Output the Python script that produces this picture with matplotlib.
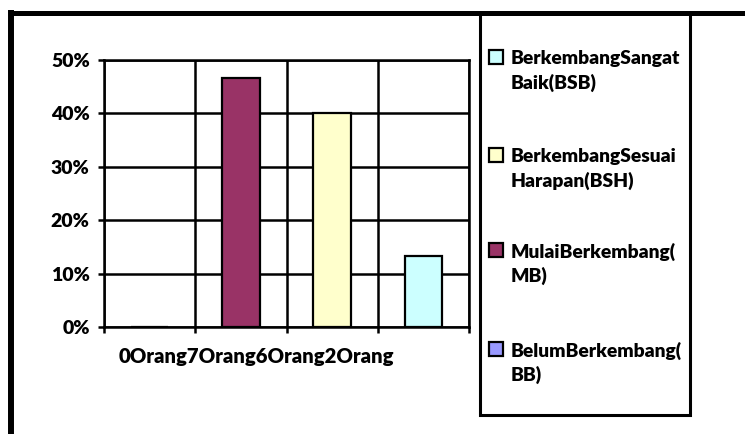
import matplotlib
matplotlib.use("Agg")
import matplotlib.pyplot as plt
from matplotlib.patches import Rectangle
from matplotlib.lines import Line2D

categories = ["0Orang", "7Orang", "6Orang", "2Orang"]
values = [0.0, 46.67, 40.0, 13.33]
bar_colors = ["#9999FF", "#993366", "#FFFFCC", "#CCFFFF"]
legend_labels = ["BerkembangSangat\nBaik(BSB)", "BerkembangSesuai\nHarapan(BSH)",
                 "MulaiBerkembang(\nMB)", "BelumBerkembang(\nBB)"]
legend_colors = ["#CCFFFF", "#FFFFCC", "#993366", "#9999FF"]
yticks = [0, 10, 20, 30, 40, 50]

plt.rcParams['font.family'] = ['Lato', 'DejaVu Sans']
plt.rcParams['font.weight'] = 'heavy'

W, H = 745, 434
fig = plt.figure(figsize=(W / 100, H / 100), dpi=100)


def fx(px):
    return px / W


def fy(py):
    return 1 - py / H


ax = fig.add_axes([fx(104), fy(327), fx(469) - fx(104), fy(60) - fy(327)])
xs = list(range(1, len(categories) + 1))
ax.bar(xs, values, width=0.41, color=bar_colors, edgecolor="black", linewidth=1.6, zorder=3)
ax.set_xlim(0.5, len(categories) + 0.5)
ax.set_ylim(0, 50)
ax.set_yticks(yticks)
ax.set_yticklabels([f"{v}%" for v in yticks], fontsize=14, fontweight="heavy")
ax.set_xticks([i + 0.5 for i in range(len(categories) + 1)])
ax.set_xticklabels([])
ax.grid(True, color="black", linewidth=1.8, zorder=0)
ax.set_axisbelow(True)
ax.tick_params(axis="both", length=4.3, width=1.8, direction="out", color="black")
ax.tick_params(axis="y", pad=6)
for s in ax.spines.values():
    s.set_linewidth(1.8)

fig.text(fx(256), fy(357), "".join(categories), ha="center", va="center",
         fontsize=14.6, fontweight="heavy")

# outer frame
fig.add_artist(Line2D([fx(8), fx(745)], [fy(12.5), fy(12.5)], color="black", lw=3.6,
                      transform=fig.transFigure, solid_capstyle="butt"))
fig.add_artist(Line2D([fx(11), fx(11)], [fy(10), fy(434)], color="black", lw=4.3,
                      transform=fig.transFigure, solid_capstyle="butt"))
# legend box
fig.add_artist(Rectangle((fx(480.5), fy(414.5)), fx(690) - fx(480.5), fy(13) - fy(414.5),
                         transform=fig.transFigure, fill=False, edgecolor="black", lw=2.2))
first_line = [57, 155, 250, 349]
for lab, col, yc in zip(legend_labels, legend_colors, first_line):
    fig.add_artist(Rectangle((fx(489), fy(yc + 7)), fx(503) - fx(489), fy(yc - 7) - fy(yc + 7),
                             transform=fig.transFigure, facecolor=col, edgecolor="black", lw=1.6))
    fig.text(fx(511), fy(yc + 14), lab, ha="left", va="center", fontsize=13.9,
             fontweight="heavy", linespacing=1.4)

fig.savefig("out.png", dpi=100)
